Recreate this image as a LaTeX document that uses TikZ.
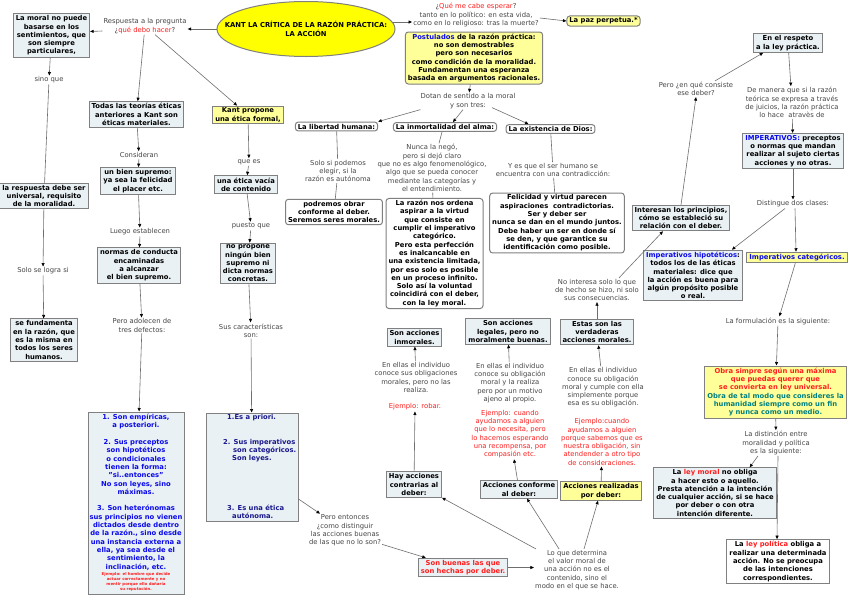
\documentclass[tikz,border=0pt]{standalone}
\usepackage{fontspec}
\setmainfont{DejaVu Sans}
\usetikzlibrary{shapes.geometric,arrows.meta,calc}
\definecolor{boxfill}{RGB}{234,241,244}
\definecolor{yfill}{RGB}{255,255,153}
\definecolor{yell}{RGB}{255,255,0}
\definecolor{bord}{RGB}{128,128,128}
\definecolor{linkc}{RGB}{70,70,70}
\definecolor{linec}{RGB}{110,110,110}
\definecolor{cblue}{RGB}{10,10,235}
\definecolor{navy}{RGB}{25,25,140}
\definecolor{cred}{RGB}{255,30,30}
\definecolor{teal2}{RGB}{0,128,128}
\begin{document}
\begin{tikzpicture}[x=1pt,y=-1pt,
  every node/.style={font=\fontsize{6.8}{8.3}\selectfont, align=center},
  lt/.style={text=linkc, inner sep=1pt},
  bf/.style={font=\fontsize{6.8}{8.3}\selectfont\bfseries},
  bx/.style={bf, draw=bord, line width=1pt, fill=boxfill, inner xsep=2.5pt, inner ysep=1.8pt},
  yb/.style={bx, fill=yfill},
  wb/.style={bx, fill=white},
  rb/.style={bx, fill=white, rounded corners=3pt},
  ryb/.style={rb, fill=yfill},
  ar/.style={draw=linec, line width=0.6pt, -{Triangle[length=3.5pt,width=3pt,color=black]}},
  ln/.style={draw=linec, line width=0.6pt},
]
\fill[white] (0,0) rectangle (848,595);
\useasboundingbox (0,0) rectangle (848,595);

% ---------- title ----------
\node[draw=bord, line width=1pt, fill=yell, ellipse, minimum width=178pt, minimum height=55pt, inner sep=0pt] (title) at (306,29) {};
\node[bf] (titletxt) at (306,29) {KANT LA CRÍTICA DE LA RAZÓN PRÁCTICA:\\LA ACCIÓN};

% ---------- left part ----------
\node[bx] (moral) at (51.5,35.5) {La moral no puede\\basarse en los\\sentimientos, que\\son siempre\\particulares,};
\node[lt] (resp) at (145,26) {Respuesta a la pregunta\\¿\textcolor{cred}{qué debo hacer}?};
\node[lt] (sino) at (49,80) {sino que};
\node[bx] (univ) at (44,196) {la respuesta debe ser\\universal, requisito\\de la moralidad.};
\node[lt] (logra) at (43,271) {Solo se logra si};
\node[bx] (fund) at (44,340) {se fundamenta\\en la razón, que\\es la misma en\\todos los seres\\humanos.};

\node[bx] (teorias) at (136.5,114.5) {Todas las teorías éticas\\anteriores a Kant son\\éticas materiales.};
\node[lt] (consid) at (139,155) {Consideran};
\node[bx] (bien) at (138,181) {un bien supremo:\\ya sea la felicidad\\el placer etc.};
\node[lt] (luego) at (140,232) {Luego establecen};
\node[bx] (normas) at (139,265.5) {normas de conducta\\encaminadas\\a alcanzar\\el bien supremo.};
\node[lt] (adolecen) at (142,325.5) {Pero adolecen de\\tres defectos:};
\node[bx, minimum width=96pt, minimum height=182pt] (def) at (136,503) {};
\node[bf, anchor=north, inner sep=0pt, text=cblue] (deftxt) at (136,414) {1. Son empíricas,\\a posteriori.\\[8.3pt]2. Sus preceptos\\son hipotéticos\\o condicionales\\tienen la forma:\\"si..entonces"\\No son leyes, sino\\máximas.\\[8.3pt]3. Son heterónomas\\sus principios no vienen\\dictados desde dentro\\de la razón., sino desde\\una instancia externa a\\ella, ya sea desde el\\sentimiento, la\\inclinación, etc.};
\node[anchor=north, inner sep=0pt, text=cred, font=\fontsize{3.9}{5}\selectfont\bfseries] (defej) at (136,572) {Ejemplo: el hombre que decide\\actuar correctamente y no\\mentir porque ello dañaría\\su reputación.};

\node[yb] (kant) at (248,115) {Kant propone\\una ética formal,};
\node[lt] (quees) at (249,162) {que es};
\node[bx] (vacia) at (246,184.5) {una ética vacía\\de contenido};
\node[lt] (puesto) at (251,226) {puesto que};
\node[bx] (nopropone) at (248,263.5) {no propone\\ningún bien\\supremo ni\\dicta normas\\concretas.};
\node[lt] (caract) at (251,330.5) {Sus características\\son:};
\node[bx, minimum width=92pt, minimum height=108pt] (carac) at (252,467) {};
\node[bf, anchor=west, inner sep=0pt, text=navy] (c1) at (227,418) {1.Es a priori.};
\node[bf, anchor=north west, inner sep=0pt, text=navy, align=left] (c2) at (223,439) {2. Sus imperativos\\\hspace*{10pt}son categóricos.\\\hspace*{9pt}Son leyes.};
\node[bf, anchor=north west, inner sep=0pt, text=navy, align=left] (c3) at (227,505) {3. Es una ética\\\hspace*{5pt}autónoma.};

% ---------- middle ----------
\node[lt] (esperar) at (476,15) {¿\textcolor{cred}{Qué me cabe esperar}?\\tanto en lo político: en esta vida,\\como en lo religioso: tras la muerte?};
\node[ryb] (paz) at (603.5,21) {La paz perpetua.*};
\node[ryb] (post) at (474,58) {\textcolor{cblue}{Postulados} de la razón práctica:\\no son demostrables\\pero son necesarios\\como condición de la moralidad.\\Fundamentan una esperanza\\basada en argumentos racionales.};
\node[lt] (dotan) at (468,101) {Dotan de sentido a la moral\\y son tres:};
\node[rb] (lib) at (336.5,126.5) {La libertad humana:};
\node[rb] (inm) at (445,127) {La inmortalidad del alma:};
\node[rb] (dios) at (550.5,129) {La existencia de Dios:};
\node[lt] (solo) at (338,171) {Solo si podemos\\elegir, si la\\razón es autónoma};
\node[rb] (podremos) at (334,212) {podremos obrar\\conforme al deber.\\Seremos seres morales.};
\node[lt] (nunca) at (432,168) {Nunca la negó,\\pero si dejó claro\\que no es algo fenomenológico,\\algo que se pueda conocer\\mediante las categorías y\\el entendimiento.};
\node[rb] (razon) at (434.5,253.5) {La razón nos ordena\\aspirar a la virtud\\que consiste en\\cumplir el imperativo\\categórico.\\Pero esta perfección\\es inalcancable en\\una existencia limitada,\\por eso solo es posible\\en un proceso infinito.\\Solo así la voluntad\\coincidirá con el deber,\\con la ley moral.};
\node[lt] (yes) at (553,170) {Y es que el ser humano se\\encuentra con una contradicción:};
\node[rb] (felic) at (557,223) {Felicidad y virtud parecen\\aspiraciones\ \ contradictorias.\\Ser y deber ser\\nunca se dan en el mundo juntos.\\Debe haber un ser en donde sí\\se den, y que garantice su\\identificación como posible.};

\node[bx] (inmorales) at (414.5,337.5) {Son acciones\\inmorales.};
\node[lt] (ellas1) at (416,377.5) {En ellas el individuo\\conoce sus obligaciones\\morales, pero no las\\realiza.};
\node[lt, text=cred] (robar) at (415,407) {Ejemplo: robar.};
\node[bx] (hay) at (414,484.5) {Hay acciones\\contrarias al\\deber:};

\node[bx] (legales) at (508,331.5) {Son acciones\\legales, pero no\\moralmente buenas.};
\node[lt] (ellas2) at (510,383) {En ellas el individuo\\conoce su obligación\\moral y la realiza\\pero por un motivo\\ajeno al propio.};
\node[lt, text=cred] (ej2) at (510,434) {Ejemplo: cuando\\ayudamos a alguien\\que lo necesita, pero\\lo hacemos esperando\\una recompensa, por\\compasión etc.};
\node[bx] (conforme) at (519,489.5) {Acciones conforme\\al deber:};

\node[bx] (verdaderas) at (597,332) {Estas son las\\verdaderas\\acciones morales.};
\node[lt] (ellas3) at (603,387.5) {En ellas el individuo\\conoce su obligación\\moral y cumple con ella\\simplemente porque\\esa es su obligación.};
\node[lt, text=cred] (ej3) at (602,442) {Ejemplo:cuando\\ayudamos a alguien\\porque sabemos que es\\nuestra obligación, sin\\atendender a otro tipo\\de consideraciones.};
\node[yb] (realizadas) at (601,491) {Acciones realizadas\\por deber:};
\node[lt] (nointeresa) at (597,290) {No interesa solo lo que\\de hecho se hizo, ni solo\\sus consecuencias.};

\node[lt] (pero) at (345,530.5) {Pero entonces\\¿como distinguir\\las acciones buenas\\de las que no lo son?};
\node[bx, text=cred] (buenas) at (463,567.5) {Son buenas las que\\son hechas por deber.};
\node[lt] (lo) at (577,570) {Lo que determina\\el valor moral de\\una acción no es el\\contenido, sino el\\modo en el que se hace.};

% ---------- right ----------
\node[bx] (respeto) at (788,43) {En el respeto\\a la ley práctica.};
\node[lt] (enque) at (696,89) {Pero ¿en qué consiste\\ese deber?};
\node[lt] (demanera) at (792,102.5) {De manera que si la razón\\teórica se expresa a través\\de juicios, la razón práctica\\lo hace\ \ atravès de};
\node[bx] (imper) at (793,151) {\textcolor{cblue}{IMPERATIVOS:} preceptos\\o normas que mandan\\realizar al sujeto ciertas\\acciones y no otras.};
\node[lt] (distingue) at (793,204) {Distingue dos clases:};
\node[bx] (interesan) at (681,218) {Interesan los principios,\\cómo se estableció su\\relación con el deber.};
\node[bx] (hipot) at (693,275.5) {\textcolor{cblue}{Imperativos hipotéticos}:\\todos los de las éticas\\materiales: dice que\\la acción es buena para\\algún propósito posible\\o real.};
\node[yb, text=cblue] (categ) at (797,257.5) {Imperativos categóricos.};
\node[lt] (formul) at (778,321) {La formulación es la siguiente:};
\node[yb] (obra) at (775.5,392) {\textcolor{cred}{Obra simpre según una máxima}\\\textcolor{cred}{que puedas querer que}\\\textcolor{cred}{se convierta en ley universal.}\\\textcolor{teal2}{Obra de tal modo que consideres la}\\\textcolor{teal2}{humanidad siempre como un fin}\\\textcolor{teal2}{y nunca como un medio.}};
\node[lt] (distincion) at (776,443) {La distinción entre\\moralidad y política\\es la siguiente:};
\node[bx] (leymoral) at (715,493) {La \textcolor{cred}{ley moral} no obliga\\a hacer esto o aquello.\\Presta atención a la intención\\de cualquier acción, si se hace\\por deber o con otra\\intención diferente.};
\node[wb] (leypol) at (778,561.5) {La \textcolor{cred}{ley política} obliga a\\realizar una determinada\\acción. No se preocupa\\de las intenciones\\correspondientes.};

% ---------- connectors ----------
\draw[ar] (title.west) -- (title.west -| resp.east);
\draw[ar] ($(resp.west)+(0,5)$) -- ($(moral.east)+(0,-4)$);
\draw[ar] (resp) -- (teorias);
\draw[ar] (resp) -- (kant);
\draw[ar] ($(title.center)+(87,-7)$) -- ($(esperar.west)+(0,7)$);
\draw[ar] ($(esperar.east)+(0,3)$) -- (paz.west);
\draw[ar] (post) -- (dotan);
\draw[ar] ($(dotan.south west)+(1,0)$) -- (lib.north east);
\draw[ar] ($(dotan.south)+(-5,0)$) -- ($(inm.north)+(8,0)$);
\draw[ar] ($(dotan.south)+(24,-2)$) -- ($(dios.north)+(-22,0)$);
\draw[ln] (lib) -- (solo);
\draw[ln] (solo) -- (podremos);
\draw[ln] ($(inm.south)+(-3,0)$) -- ($(nunca.north)+(7,0)$);
\draw[ln] (nunca) -- (razon);
\draw[ln] (dios) -- (yes);
\draw[ln] (yes) -- (felic);

\draw[ar] (moral) -- (sino);
\draw[ln] (sino) -- (univ);
\draw[ar] (univ) -- (logra);
\draw[ar] (logra) -- (fund);
\draw[ar] (teorias) -- (consid);
\draw[ar] (consid) -- (bien);
\draw[ar] (bien) -- (luego);
\draw[ar] (luego) -- (normas);
\draw[ar] (normas) -- (adolecen);
\draw[ar] (adolecen) -- (def);
\draw[ar] (kant) -- (quees);
\draw[ar] (quees) -- (vacia);
\draw[ar] (vacia) -- (puesto);
\draw[ar] (puesto) -- (nopropone);
\draw[ar] (nopropone) -- (caract);
\draw[ar] (caract) -- (carac);
\draw[ar] ($(carac.east)+(0,32)$) -- ($(pero.north)+(-25,0)$);
\draw[ar] ($(pero.south east)+(0,-3)$) -- ($(buenas.north west)+(8,0)$);
\draw[ar] (buenas.east) -- (buenas.east -| lo.west);
\draw[ar] ($(lo.north west)+(2,0)$) -- (hay.south east);
\draw[ar] ($(lo.north)+(-18,0)$) -- ($(conforme.south)+(8,0)$);
\draw[ar] ($(lo.north)+(7,0)$) -- ($(realizadas.south)+(-3,0)$);
\draw[ar] (hay) -- (robar);
\draw[ar] (ellas1) -- (inmorales);
\draw[ar] (conforme) -- (ej2);
\draw[ar] (ellas2) -- (legales);
\draw[ar] (realizadas) -- (ej3);
\draw[ar] (ellas3) -- (verdaderas);
\draw[ar] (verdaderas) -- (nointeresa);
\draw[ar] ($(nointeresa.north)+(22,0)$) -- ($(interesan.south)+(-18,0)$);
\draw[ar] (interesan.north) -- (enque.south);
\draw[ar] ($(enque.north)+(19,0)$) -- ($(respeto.south west)+(10,0)$);
\draw[ar] (respeto) -- (demanera);
\draw[ar] (demanera) -- (imper);
\draw[ar] (imper) -- (distingue);
\draw[ar] ($(distingue.south)+(-8,0)$) -- ($(hipot.north east)+(-11,0)$);
\draw[ar] ($(distingue.south)+(2,0)$) -- ($(categ.north)+(-1,0)$);
\draw[ar] (categ) -- (formul);
\draw[ar] (formul) -- (obra);
\draw[ar] (obra) -- (distincion);
\draw[ar] ($(distincion.south)+(-18,0)$) -- ($(leymoral.north east)+(-27,0)$);
\draw[ar] ($(distincion.south)+(2,0)$) -- ($(leypol.north)+(-1,0)$);
\end{tikzpicture}
\end{document}
